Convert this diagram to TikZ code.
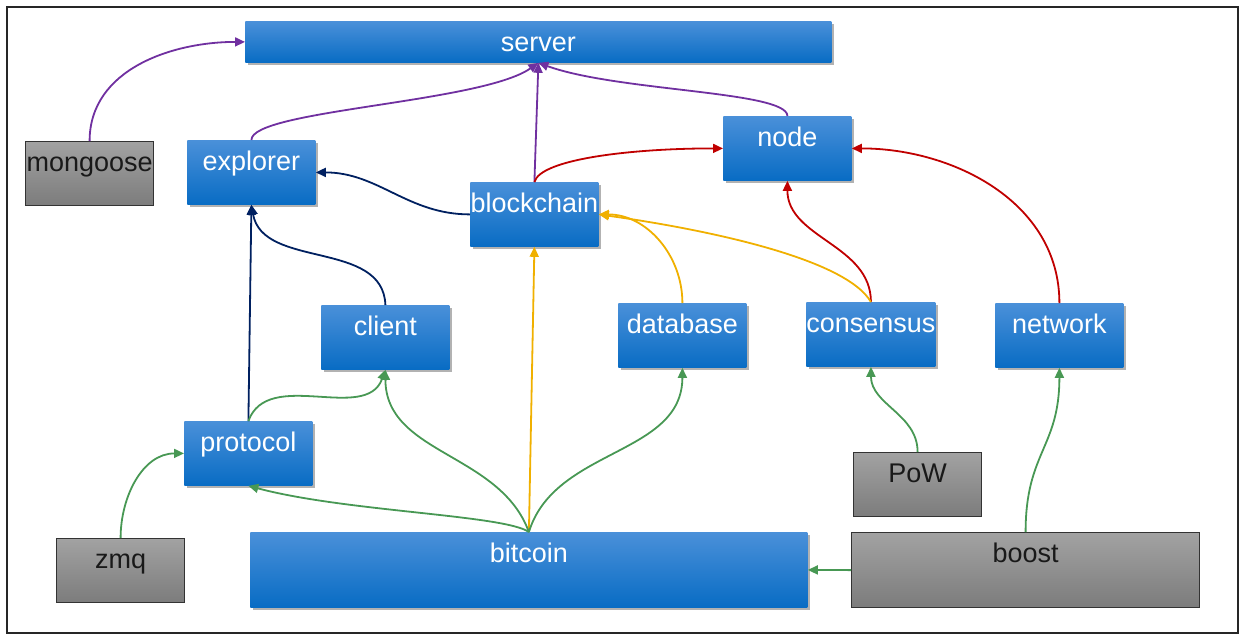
\documentclass[tikz,border=0pt]{standalone}
\usepackage{fontspec}
\setmainfont{Liberation Sans}
\usetikzlibrary{arrows.meta, shadows}
\definecolor{boxtop}{RGB}{74,144,217}
\definecolor{boxbot}{RGB}{8,108,196}
\definecolor{greytop}{RGB}{162,162,162}
\definecolor{greybot}{RGB}{124,124,124}
\definecolor{linkpurple}{RGB}{112,48,160}
\definecolor{linkred}{RGB}{192,0,0}
\definecolor{linknavy}{RGB}{0,32,96}
\definecolor{linkgreen}{RGB}{72,152,84}
\definecolor{linkgold}{RGB}{240,176,0}
\tikzset{
 box/.style={anchor=north west, inner sep=0pt, minimum width=64pt,
  text height=15pt, text depth=17pt, font=\fontsize{13.5}{16}\selectfont},
 module/.style={box, top color=boxtop, bottom color=boxbot, text=white,
  drop shadow={shadow xshift=1.3pt, shadow yshift=-1.3pt, opacity=0.3, fill=black}},
 extlib/.style={box, top color=greytop, bottom color=greybot,
  draw=black!80, line width=0.6pt, text=black!90},
 link/.style={line width=0.9pt, -{Triangle[length=5pt,width=4.5pt]}}
}

\begin{document}
\begin{tikzpicture}[x=0.5pt, y=0.5pt]

\useasboundingbox (0,0) rectangle (1247,-639);
\draw [line width=1.2pt, black!85] (7,-7) rectangle (1238,-633);

% modules
\node [module, minimum width=293pt, text depth=5.5pt] (server) at (245,-21) {server};
\foreach \name/\x/\y in
  {explorer/187/140, node/723/116, blockchain/470/182, client/321/305,
  database/618/303, consensus/806/302, network/995/303, protocol/184/421}
\node [module] (\name) at (\x,-\y) {\name};
\node [module, minimum width=278.5pt, text depth=22.5pt] (bitcoin) at (250,-532) {bitcoin};

% external libraries
\foreach \name/\x/\y in {mongoose/25/141, zmq/56/538, PoW/853/452}
\node [extlib] (\name) at (\x,-\y) {\name};
\node [extlib, minimum width=174pt, text depth=22.5pt] (boost) at (851,-532) {boost};

% links to server
\draw [link, linkpurple] (mongoose.north) to [out=90, in=180] (server.west);
\draw [link, linkpurple] (explorer.north)
  to [out=90, in=215, out distance=15pt, in distance=35pt] (server.south);
\draw [link, linkpurple] (blockchain.north) -- (server.south);
\draw [link, linkpurple] (node.north)
  to [out=90, in=-20, out distance=12.5pt, in distance=42pt] (server.south);

% links to node
\draw [link, linkred] (blockchain.north)
  to [out=75, in=180, out distance=12pt, in distance=45pt] (node.west);
\draw [link, linkred] (consensus.north) to [out=90, in=-90] (node.south);
\draw [link, linkred] (network.north) to [out=90, in=0] (node.east);

% links to explorer
\draw [link, linknavy] (blockchain.west) to [out=180, in=0] (explorer.east);
\draw [link, linknavy] (client.north) to [out=92, in=-80] (explorer.south);
\draw [link, linknavy] (protocol.north) -- (explorer.south);

% links to blockchain
\draw [link, linkgold] (bitcoin.north) -- (blockchain.south);
\draw [link, linkgold] (database.north) to [out=90, in=0] (blockchain.east);
\draw [link, linkgold] (consensus.north)
  to [out=120, in=-8, out distance=25pt, in distance=55pt] (blockchain.east);

% links from bitcoin and the libraries
\draw [link, linkgreen] (protocol.north) to [out=70, in=-110] (client.south);
\draw [link, linkgreen] (bitcoin.north)
  to [out=145, in=-15, out distance=15pt, in distance=50pt] (protocol.south);
\draw [link, linkgreen] (bitcoin.north) to [out=110, in=-90] (client.south);
\draw [link, linkgreen] (bitcoin.north) to [out=73, in=-90] (database.south);
\draw [link, linkgreen] (zmq.north) to [out=90, in=180] (protocol.west);
\draw [link, linkgreen] (PoW.north) to [out=90, in=-90] (consensus.south);
\draw [link, linkgreen] (boost.north)
  to [out=90, in=-90, out distance=40pt, in distance=40pt] (network.south);
\draw [link, linkgreen] (boost.west) -- (bitcoin.east);
\end{tikzpicture}
\end{document}
